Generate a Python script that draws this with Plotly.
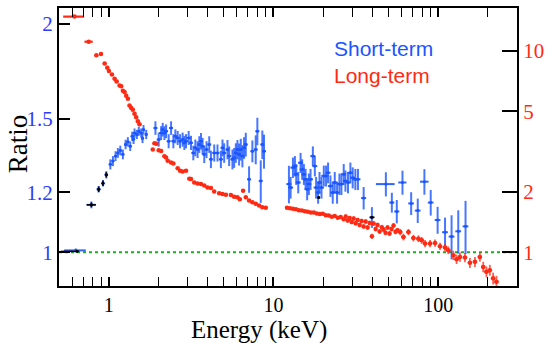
import plotly.graph_objects as go

# ---------------- data ----------------
# Long-term (red, right axis)
red_E = [0.62, 0.757, 0.843, 0.899, 0.946, 0.982, 1.004, 1.047, 1.087, 1.118, 1.166, 1.193,
         1.220, 1.249, 1.279, 1.308, 1.339, 1.371, 1.402, 1.436, 1.470, 1.504, 1.539,
         1.852, 1.897, 1.95, 2.013, 2.082, 2.18, 2.232, 2.282, 2.392, 2.47, 2.623, 2.712,
         2.811, 2.948, 3.088, 3.161, 3.309, 3.464, 3.632, 3.803, 3.981, 4.174, 4.371, 4.686,
         4.905, 5.142, 5.513, 5.771, 6.044, 6.249, 6.543, 6.792, 7.112, 7.446, 7.804, 8.175,
         8.558, 8.973,
         12.07, 12.58, 13.12, 13.68, 14.26, 14.87, 15.50, 16.16, 16.85, 17.57, 18.32, 19.10,
         19.91, 20.76, 21.64, 22.57, 23.53, 24.53, 25.58, 26.67, 27.42, 28.20, 28.99, 29.81,
         30.65, 31.51, 32.40, 33.32, 34.25, 35.23, 36.22, 37.24, 38.29, 39.54, 40.49, 41.63,
         42.80, 44.01, 45.44, 46.53, 47.84, 49.19, 50.58, 52.00, 53.47, 54.98, 56.53,
         58.7, 61.43, 65.87, 70.6, 75.7, 79.3, 83.1, 89.1, 95.5, 102.4, 109.8, 114.9, 123.2,
         129.0, 135.2, 145.0, 155.4, 166.7, 178.6, 187.1, 195.8, 205.3, 214.9, 225.1]
red_R = [14.76, 11.08, 9.48, 9.63, 8.63, 8.22, 7.94, 7.62, 7.25, 7.04, 6.72, 6.67,
         6.33, 6.23, 5.98, 5.78, 5.34, 5.20, 5.10, 4.86, 4.68, 4.47, 4.31,
         3.23, 3.47, 3.45, 3.21, 3.18, 2.995, 2.95, 2.84, 2.785, 2.754, 2.614, 2.534,
         2.514, 2.534, 2.315, 2.307, 2.220, 2.195, 2.180, 2.146, 2.098, 2.084, 2.004, 1.960,
         1.946, 1.931, 1.924, 1.887, 1.873, 1.830, 2.020, 1.873, 1.804, 1.769, 1.738, 1.704,
         1.672, 1.661,
         1.661, 1.651, 1.642, 1.632, 1.616, 1.610, 1.596, 1.587, 1.576, 1.573, 1.557, 1.546,
         1.553, 1.528, 1.521, 1.501, 1.513, 1.481, 1.496, 1.457, 1.504, 1.439, 1.479, 1.413,
         1.471, 1.392, 1.446, 1.366, 1.430, 1.343, 1.421, 1.328, 1.397, 1.199, 1.389, 1.305,
         1.366, 1.269, 1.332, 1.298, 1.248, 1.328, 1.240, 1.305, 1.359, 1.262, 1.284,
         1.259, 1.190, 1.259, 1.176, 1.168, 1.146, 1.104, 1.104, 1.111, 1.070, 1.055, 1.023,
         0.966, 0.924, 0.948, 0.942, 0.886, 0.896, 0.948, 0.846, 0.800, 0.815, 0.742, 0.714]
red_dE_frac = ([0.145, 0.058] + [0.025] * 59 + [0.018] * 47 + [0.03] * 24)
red_dR = ([0.05, 0.05] + [0.03] * 21 + [0.02] * 38 + [0.02] * 20 + [0.035] * 27
          + [0.045] * 12 + [0.05] * 12)

# Short-term (blue, left axis)
blue_E = [0.632, 0.786, 0.870, 0.924, 0.968, 1.024, 1.062, 1.102, 1.138, 1.177, 1.220,
          1.267, 1.308, 1.352, 1.390, 1.416, 1.436, 1.483, 1.524, 1.576, 1.605, 1.627, 1.690,
          1.923, 2.013, 2.082, 2.129, 2.18, 2.232, 2.313, 2.392, 2.47, 2.54, 2.623, 2.712,
          2.811, 2.879, 2.948, 3.058, 3.161, 3.264, 3.357, 3.464, 3.547, 3.632, 3.714, 3.803,
          3.926, 4.076, 4.174, 4.371, 4.575, 4.797, 4.905, 5.022, 5.259, 5.384, 5.637, 5.771,
          5.909, 6.044, 6.186, 6.333, 6.478, 6.633, 6.792, 7.112, 7.446, 7.804, 7.983, 8.371,
          8.558, 8.76,
          12.41, 12.70, 13.12, 13.49, 13.74, 14.13, 14.60, 14.93, 15.29, 15.65, 16.00, 16.39,
          16.78, 17.33, 17.82, 18.14, 18.65, 19.02, 19.55, 20.19, 20.84, 21.43, 22.16, 22.88,
          23.53, 24.30, 25.12, 25.83, 26.67, 27.31, 28.32, 29.28, 30.23, 31.38, 32.54, 35.23,
          39.54, 48.05, 52.23, 55.98, 60.6, 68.4, 75.0, 82.3, 89.9, 99.0, 109.8, 120.3, 132.1,
          146.2]
blue_R = [1.006, 1.155, 1.211, 1.233, 1.265, 1.306, 1.319, 1.339, 1.352, 1.362, 1.346,
          1.387, 1.398, 1.380, 1.422, 1.409, 1.436, 1.430, 1.444, 1.436, 1.413, 1.451, 1.430,
          1.458, 1.408, 1.436, 1.451, 1.436, 1.444, 1.401, 1.458, 1.401, 1.422, 1.415, 1.401,
          1.408, 1.394, 1.401, 1.415, 1.394, 1.352, 1.373, 1.366, 1.387, 1.401, 1.380, 1.346,
          1.366, 1.387, 1.326, 1.352, 1.352, 1.326, 1.373, 1.352, 1.366, 1.339, 1.326, 1.332,
          1.352, 1.366, 1.346, 1.366, 1.339, 1.373, 1.387, 1.248, 1.359, 1.366, 1.444, 1.242,
          1.387, 1.359,
          1.230, 1.217, 1.293, 1.299, 1.267, 1.236, 1.312, 1.286, 1.267, 1.248, 1.211, 1.230,
          1.248, 1.339, 1.299, 1.217, 1.199, 1.236, 1.217, 1.261, 1.261, 1.273, 1.223, 1.199,
          1.236, 1.199, 1.230, 1.230, 1.267, 1.242, 1.236, 1.273, 1.254, 1.248, 1.248, 1.179,
          1.112, 1.230, 1.163, 1.132, 1.236, 1.160, 1.135, 1.239, 1.163, 1.103, 1.063, 1.049,
          1.066, 1.082]
blue_dE_frac = ([0.15, 0.065, 0.03, 0.025, 0.025] + [0.022] * 18 + [0.028] * 50
                + [0.035] * 36 + [0.03, 0.13, 0.035, 0.035, 0.057, 0.04, 0.04, 0.06, 0.04,
                                  0.04, 0.04, 0.04, 0.04, 0.04])
blue_dR = ([0.006, 0.012, 0.012, 0.012, 0.014] + [0.02] * 18 + [0.03] * 18 + [0.035] * 13
           + [0.04] * 7 + [0.045] * 4 + [0.05, 0.05, 0.045, 0.06, 0.06, 0.08, 0.06, 0.07, 0.07]
           + [0.04] * 35 + [0.035, 0.045, 0.035, 0.04, 0.045, 0.04, 0.042, 0.048, 0.045,
                            0.045, 0.048, 0.07, 0.07, 0.087, 0.107])

# Short-term, second instrument (black, left axis)
black_E = [0.643, 0.786, 0.870, 0.924, 0.968, 18.8, 39.5]
black_R = [1.003, 1.155, 1.211, 1.233, 1.265, 1.181, 1.112]
black_dE_minus = [0.13, 0.05, 0.015, 0.012, 0.012, 0.3, 1.2]
black_dE_plus = [0.02, 0.05, 0.015, 0.012, 0.012, 0.3, 1.5]
black_dR = [0.003, 0.008, 0.01, 0.01, 0.01, 0.004, 0.004]

x_ticks = [1, 10, 100]
x_minor = [0.5, 0.6, 0.7, 0.8, 0.9, 2, 3, 4, 5, 6, 7, 8, 9, 20, 30, 40, 50, 60, 70, 80, 90, 200, 300]
left_ticks = [1, 1.2, 1.5, 2]
right_ticks = [1, 2, 5, 10]

# ---------------- figure ----------------
BLUE = "#1a55ff"
RED = "#ff2a14"
SERIF = "Liberation Serif"

fig = go.Figure()

fig.add_trace(go.Scatter(
    x=red_E, y=red_R, yaxis="y2", mode="markers",
    marker=dict(color=RED, size=4.5),
    error_x=dict(type="data", array=[e * f for e, f in zip(red_E, red_dE_frac)],
                 color=RED, thickness=2.2, width=0),
    error_y=dict(type="data", array=red_dR, color="rgba(255,42,20,0.75)", thickness=1.8, width=0),
    showlegend=False))

fig.add_trace(go.Scatter(
    x=blue_E, y=blue_R, mode="markers",
    marker=dict(color=BLUE, size=3),
    error_x=dict(type="data", array=[e * f for e, f in zip(blue_E, blue_dE_frac)],
                 color="rgba(26,85,255,0.9)", thickness=2, width=0),
    error_y=dict(type="data", array=blue_dR, color="rgba(26,85,255,0.8)", thickness=2, width=0),
    showlegend=False))

fig.add_trace(go.Scatter(
    x=black_E, y=black_R, mode="markers",
    marker=dict(color="black", size=3),
    error_x=dict(type="data", symmetric=False, array=black_dE_plus, arrayminus=black_dE_minus,
                 color="black", thickness=1.5, width=0),
    error_y=dict(type="data", array=black_dR, color="black", thickness=1.5, width=0),
    showlegend=False))

fig.add_shape(type="line", xref="paper", yref="y", x0=0, x1=1, y0=1, y1=1,
              line=dict(color="#1faa1f", width=2, dash="3px,3px"), layer="below")

fig.add_annotation(xref="paper", yref="paper", x=0.596, y=0.855, xanchor="left", yanchor="middle",
                   text="Short-term", showarrow=False,
                   font=dict(family="Liberation Sans", size=21, color=BLUE))
fig.add_annotation(xref="paper", yref="paper", x=0.596, y=0.757, xanchor="left", yanchor="middle",
                   text="Long-term", showarrow=False,
                   font=dict(family="Liberation Sans", size=21, color=RED))

# axis titles
fig.add_annotation(xref="paper", yref="paper", x=0.437, y=-0.158, xanchor="center", yanchor="middle",
                   text="Energy (keV)", showarrow=False,
                   font=dict(family=SERIF, size=25, color="black"))
fig.add_annotation(xref="paper", yref="paper", x=-0.089, y=0.511, xanchor="center", yanchor="middle",
                   text="Ratio", showarrow=False, textangle=-90,
                   font=dict(family=SERIF, size=27, color="black"))

fig.update_layout(
    width=550, height=343,
    margin=dict(l=59, r=31, t=6, b=57),
    plot_bgcolor="white", paper_bgcolor="white",
    font=dict(family=SERIF, color="black"),
    xaxis=dict(
        type="log", range=[-0.30103, 2.47712],
        showline=True, linecolor="black", linewidth=2, mirror="allticks",
        ticks="inside", ticklen=9, tickwidth=1.5, tickcolor="black",
        tickvals=x_ticks, ticktext=[str(v) for v in x_ticks],
        tickfont=dict(family=SERIF, size=20, color="black"),
        minor=dict(tickvals=x_minor, ticks="inside", ticklen=4, tickwidth=1.2,
                   tickcolor="black", showgrid=False),
        showgrid=False, zeroline=False,
    ),
    yaxis=dict(
        type="log", range=[-0.0443, 0.3218],
        showline=True, linecolor="black", linewidth=2, mirror=True,
        ticks="inside", ticklen=11, tickwidth=1.5, tickcolor="black",
        tickvals=left_ticks, ticktext=[str(v) for v in left_ticks],
        tickfont=dict(family=SERIF, size=21, color="#2b3bff"),
        showgrid=False, zeroline=False,
    ),
    yaxis2=dict(
        type="log", range=[-0.1675, 1.2118], overlaying="y", side="right",
        showline=True, linecolor="black", linewidth=2,
        ticks="inside", ticklen=15, tickwidth=1.5, tickcolor="black",
        tickvals=right_ticks, ticktext=[str(v) for v in right_ticks],
        tickfont=dict(family=SERIF, size=21, color=RED),
        showgrid=False, zeroline=False,
    ),
)

fig.write_html("out.html")
